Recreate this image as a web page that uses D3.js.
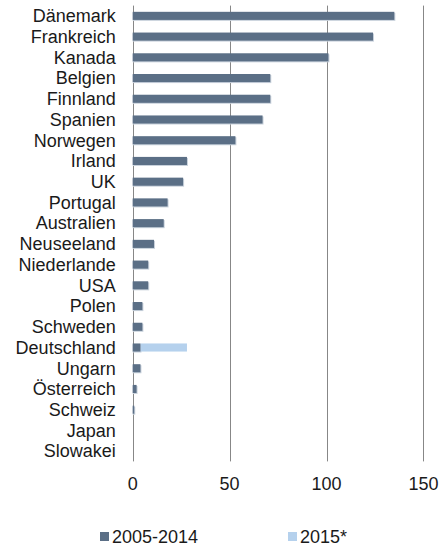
<!DOCTYPE html>
<html>
<head>
<meta charset="utf-8">
<script src="https://cdn.jsdelivr.net/npm/d3@7"></script>
<style>
  body { margin: 0; background: #fff; }
  text { font-family: "Liberation Sans", Arial, sans-serif; fill: #1a1a1a; }
</style>
</head>
<body>
<script>
const countries = ['Dänemark', 'Frankreich', 'Kanada', 'Belgien', 'Finnland', 'Spanien',
  'Norwegen', 'Irland', 'UK', 'Portugal', 'Australien', 'Neuseeland', 'Niederlande',
  'USA', 'Polen', 'Schweden', 'Deutschland', 'Ungarn', 'Österreich', 'Schweiz',
  'Japan', 'Slowakei']
const values0514 = [135, 124, 101, 71, 71, 67, 53, 28, 26, 18, 16, 11, 8, 8, 5, 5, 4, 4, 2, 0.8, 0, 0]
const values2015 = [0, 0, 0, 0, 0, 0, 0, 0, 0, 0, 0, 0, 0, 0, 0, 0, 24, 0, 0, 0, 0, 0]
const xTicks = [0, 50, 100, 150]
const seriesNames = ['2005-2014', '2015*']

const width = 439
const height = 546
const colors = ['#5b6f86', '#b5d1ed']

const svg = d3.select('body').append('svg')
  .attr('width', width)
  .attr('height', height)

const x = d3.scaleLinear().domain([0, 150]).range([132.7, 423.4])
const y = d3.scaleBand().domain(countries).range([5.6, 461.4]).paddingInner(0.61).paddingOuter(0.3)

// Grid lines
svg.append('g')
  .selectAll('line')
  .data(xTicks)
  .enter()
  .append('line')
  .attr('x1', (d) => Math.round(x(d)) + 0.5)
  .attr('x2', (d) => Math.round(x(d)) + 0.5)
  .attr('y1', 5.6)
  .attr('y2', 461.4)
  .attr('stroke', '#878787')
  .attr('stroke-width', 1)

// Stacked data
const rows = countries.map((c, i) => ({ c, a: values0514[i], b: values2015[i] }))

const bars = svg.append('g')
// light edge shadow
bars.selectAll('rect.shadow')
  .data(rows.filter((d) => d.a > 0))
  .enter()
  .append('rect')
  .attr('class', 'shadow')
  .attr('x', x(0))
  .attr('y', (d) => y(d.c) + 1)
  .attr('width', (d) => x(d.a) - x(0) + 1)
  .attr('height', y.bandwidth())
  .attr('fill', '#c9d2dc')

bars.selectAll('rect.s2')
  .data(rows.filter((d) => d.b > 0))
  .enter()
  .append('rect')
  .attr('class', 's2')
  .attr('x', (d) => x(d.a))
  .attr('y', (d) => y(d.c))
  .attr('width', (d) => x(d.a + d.b) - x(d.a))
  .attr('height', y.bandwidth())
  .attr('fill', colors[1])

bars.selectAll('rect.s1')
  .data(rows.filter((d) => d.a > 0))
  .enter()
  .append('rect')
  .attr('class', 's1')
  .attr('x', x(0))
  .attr('y', (d) => y(d.c))
  .attr('width', (d) => x(d.a) - x(0))
  .attr('height', y.bandwidth())
  .attr('fill', colors[0])

// Category labels
svg.append('g')
  .selectAll('text')
  .data(countries)
  .enter()
  .append('text')
  .attr('x', 115.7)
  .attr('y', (d) => y(d) + y.bandwidth() / 2)
  .attr('dy', '0.35em')
  .attr('text-anchor', 'end')
  .style('font-size', '18px')
  .text((d) => d)

// X tick labels
svg.append('g')
  .selectAll('text')
  .data(xTicks)
  .enter()
  .append('text')
  .attr('x', (d) => x(d))
  .attr('y', 484)
  .attr('dy', '0.35em')
  .attr('text-anchor', 'middle')
  .style('font-size', '18px')
  .text((d) => d)

// Legend
const legend = svg.append('g')
const legendX = [100, 288]
seriesNames.forEach((name, i) => {
  legend.append('rect')
    .attr('x', legendX[i])
    .attr('y', 532)
    .attr('width', 9)
    .attr('height', 9)
    .attr('fill', colors[i])
  legend.append('text')
    .attr('x', legendX[i] + 12)
    .attr('y', 536.5)
    .attr('dy', '0.35em')
    .style('font-size', '18px')
    .text(name)
})
</script>
</body>
</html>
